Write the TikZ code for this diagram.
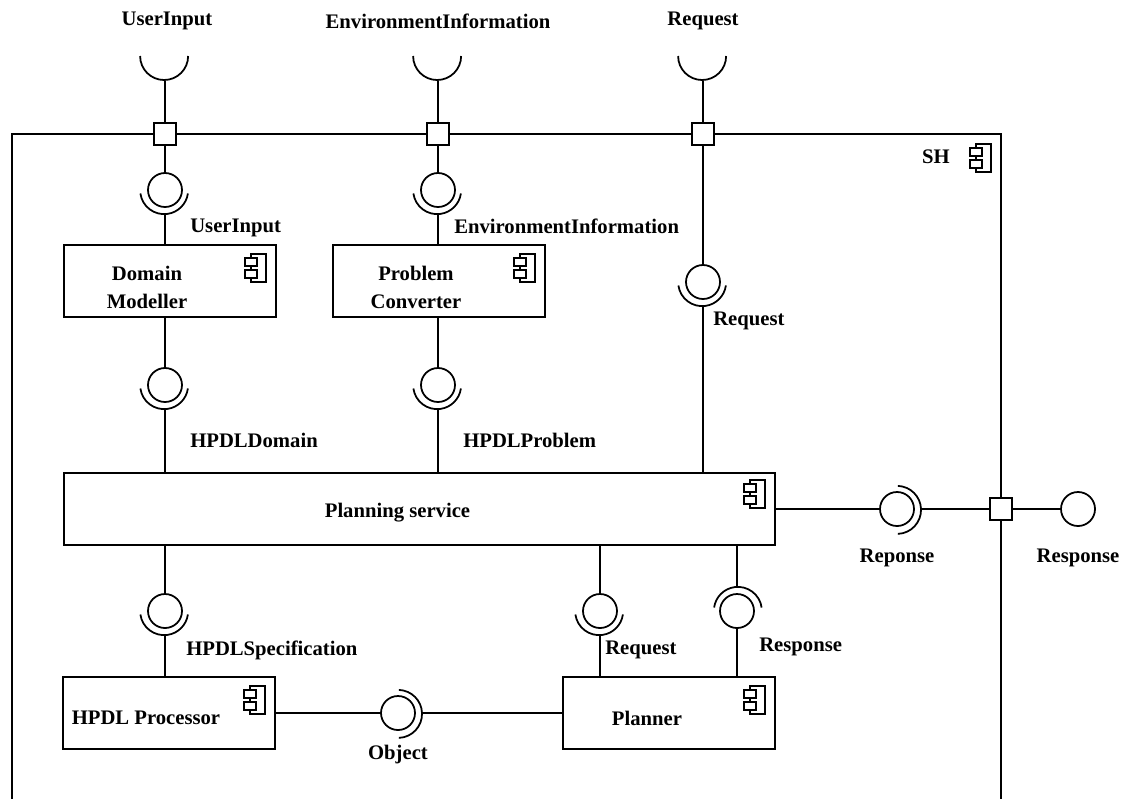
\documentclass[tikz,border=0pt]{standalone}
\usepackage{fontspec}
\setmainfont{Liberation Serif}
\usetikzlibrary{positioning}

\begin{document}
\begin{tikzpicture}[x=0.025cm, y=-0.025cm, line width=1.25pt,
  comp/.style={rectangle, draw, minimum width=5.3cm, minimum height=1.8cm, inner sep=0pt},
  comptext/.style={align=center, font=\bfseries\fontsize{14.7}{20}\selectfont},
  lbl/.style={font=\bfseries\fontsize{14.7}{16}\selectfont, inner sep=1pt},
  port/.style={rectangle, draw, fill=white, minimum size=0.55cm, inner sep=0pt},
  ball/.style={circle, draw, fill=white, minimum size=0.85cm, inner sep=0pt},
  sock/.style={circle, minimum size=1.2cm, inner sep=0pt},
  compicon/.pic={
    \draw[line width=0.9pt] (-7,-14) rectangle (8,14);
    \draw[line width=0.9pt, fill=white] (-13,-10) rectangle (-1,-2);
    \draw[line width=0.9pt, fill=white] (-13,2) rectangle (-1,10);
  }]
\useasboundingbox (0,0) rectangle (1123,798);

% outer component
\node[draw, minimum width=24.725cm, minimum height=17.4cm, inner sep=0pt] (sh) at (506.5,482) {};
\node[lbl] (shl) at (936,157) {SH};
\pic at ([shift={(-19,25)}]sh.north east) {compicon};

% inner components
\node[comp] (dm) at (170,281) {};
\node[comp] (pc) at (439,281) {};
\node[comp, minimum width=17.775cm] (ps) at (419.5,509) {};
\node[comp] (hp) at (169,713) {};
\node[comp] (pl) at (669,713) {};
\node[comptext] (dmt) at ([shift={(-23,6)}]dm.center) {Domain\\Modeller};
\node[comptext] (pct) at ([shift={(-23,6)}]pc.center) {Problem\\Converter};
\node[comptext] (pst) at ([shift={(-22,4)}]ps.center) {Planning service};
\node[comptext] (hpt) at ([shift={(-23,5)}]hp.center) {HPDL Processor};
\node[comptext] (plt) at ([shift={(-22,5)}]pl.center) {Planner};
\pic at ([shift={(-19,24)}]dm.north east) {compicon};
\pic at ([shift={(-19,24)}]pc.north east) {compicon};
\pic at ([shift={(-19,22)}]ps.north east) {compicon};
\pic at ([shift={(-19,24)}]hp.north east) {compicon};
\pic at ([shift={(-19,24)}]pl.north east) {compicon};

% ports and outer interfaces
\node[port] (p1) at (165,134) {};
\node[port] (p2) at (438,134) {};
\node[port] (p3) at (703,134) {};
\node[port] (p4) at (1001,509) {};
\node[sock] (r1) at (165,56) {};
\node[sock] (r2) at (438,56) {};
\node[sock] (r3) at (703,56) {};
\node[lbl] (r1l) at (167,21) {UserInput};
\node[lbl] (r2l) at (438,21) {EnvironmentInformation};
\node[lbl] (r3l) at (703,21) {Request};
\draw (r1.west) arc[start angle=180, end angle=360, radius=0.6cm];
\draw (r2.west) arc[start angle=180, end angle=360, radius=0.6cm];
\draw (r3.west) arc[start angle=180, end angle=360, radius=0.6cm];
\node[ball] (b11) at (1078,509) {};
\node[lbl, below=0.5cm of b11] (l11) {Response};

% assemblies
\node[ball] (b1) at (165,190) {};
\node[sock] (k1) at (165,190) {};
\node[ball] (b2) at (438,190) {};
\node[sock] (k2) at (438,190) {};
\node[ball] (b3) at (703,282) {};
\node[sock] (k3) at (703,282) {};
\node[ball] (b4) at (165,385) {};
\node[sock] (k4) at (165,385) {};
\node[ball] (b5) at (438,385) {};
\node[sock] (k5) at (438,385) {};
\node[ball] (b6) at (165,611) {};
\node[sock] (k6) at (165,611) {};
\node[ball] (b7) at (600,611) {};
\node[sock] (k7) at (600,611) {};
\node[ball] (b8) at (737,611) {};
\node[sock] (k8) at (737,611) {};
\node[ball] (b9) at (398,713) {};
\node[sock] (k9) at (398,713) {};
\node[ball] (b10) at (897,509) {};
\node[sock] (k10) at (897,509) {};
\draw (k1.188) arc[start angle=188, end angle=352, radius=0.6cm];
\draw (k2.188) arc[start angle=188, end angle=352, radius=0.6cm];
\draw (k3.188) arc[start angle=188, end angle=352, radius=0.6cm];
\draw (k4.188) arc[start angle=188, end angle=352, radius=0.6cm];
\draw (k5.188) arc[start angle=188, end angle=352, radius=0.6cm];
\draw (k6.188) arc[start angle=188, end angle=352, radius=0.6cm];
\draw (k7.188) arc[start angle=188, end angle=352, radius=0.6cm];
\draw (k8.8) arc[start angle=8, end angle=172, radius=0.6cm];
\draw (k9.-88) arc[start angle=-88, end angle=88, radius=0.6cm];
\draw (k10.-88) arc[start angle=-88, end angle=88, radius=0.6cm];

% interface labels
\node[lbl, anchor=west] (l1) at (188,228) {UserInput};
\node[lbl, anchor=west] (l2) at (452,226) {EnvironmentInformation};
\node[lbl, anchor=west] (l3) at (711,321) {Request};
\node[lbl, anchor=west] (l4) at (188,440) {HPDLDomain};
\node[lbl, anchor=west] (l5) at (461,440) {HPDLProblem};
\node[lbl, anchor=west] (l6) at (184,650) {HPDLSpecification};
\node[lbl, anchor=west] (l7) at (603,650) {Request};
\node[lbl, anchor=west] (l8) at (757,647) {Response};
\node[lbl, below=0.3cm of b9] (l9) {Object};
\node[lbl, below=0.5cm of b10] (l10) {Reponse};

% connectors
\draw (r1.south) -- (p1.north);
\draw (p1.south) -- (b1.north);
\draw (k1.south) -- (k1.south |- dm.north);
\draw (r2.south) -- (p2.north);
\draw (p2.south) -- (b2.north);
\draw (k2.south) -- (k2.south |- pc.north);
\draw (r3.south) -- (p3.north);
\draw (p3.south) -- (b3.north);
\draw (k3.south) -- (k3.south |- ps.north);
\draw (b4.north |- dm.south) -- (b4.north);
\draw (k4.south) -- (k4.south |- ps.north);
\draw (b5.north |- pc.south) -- (b5.north);
\draw (k5.south) -- (k5.south |- ps.north);
\draw (b6.north |- ps.south) -- (b6.north);
\draw (k6.south) -- (k6.south |- hp.north);
\draw (b7.north |- ps.south) -- (b7.north);
\draw (k7.south) -- (k7.south |- pl.north);
\draw (k8.north |- ps.south) -- (k8.north);
\draw (b8.south) -- (b8.south |- pl.north);
\draw (hp.east) -- (b9.west);
\draw (k9.east) -- (pl.west);
\draw (ps.east) -- (b10.west);
\draw (k10.east) -- (p4.west);
\draw (p4.east) -- (b11.west);
\end{tikzpicture}
\end{document}
